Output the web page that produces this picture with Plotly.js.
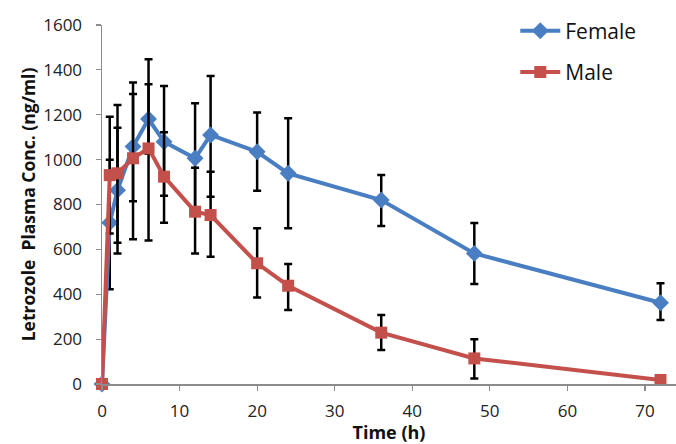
<!DOCTYPE html>
<html>
<head>
<meta charset="utf-8">
<script src="https://cdn.plot.ly/plotly-3.0.1.min.js"></script>
<style>html,body{margin:0;padding:0;background:#fff;}#chart{width:676px;height:444px;}</style>
</head>
<body>
<div id="chart"></div>
<script>
const times = [0, 1, 2, 4, 6, 8, 12, 14, 20, 24, 36, 48, 72];
const female = [0, 719, 864, 1058, 1181, 1080, 1006, 1110, 1035, 939, 820, 582, 362];
const femaleErrPlus = [0, 280, 278, 234, 155, 248, 245, 263, 175, 245, 111, 136, 87];
const femaleErrMinus = [0, 297, 282, 243, 155, 241, 245, 275, 174, 245, 116, 136, 77];
const male = [0, 931, 939, 1006, 1050, 924, 768, 753, 538, 438, 229, 114, 18];
const maleErrPlus = [0, 260, 304, 338, 397, 198, 196, 193, 156, 97, 78, 85, 0];
const maleErrMinus = [0, 260, 309, 361, 410, 205, 186, 186, 152, 108, 78, 89, 0];
const yTicks = [0, 200, 400, 600, 800, 1000, 1200, 1400, 1600];
const xTicks = [0, 10, 20, 30, 40, 50, 60, 70];

const blue = '#4A7EC2';
const red = '#C4504C';
const font = '"Open Sans", "DejaVu Sans", sans-serif';

const traces = [
  {
    x: times, y: female, name: 'Female', type: 'scatter', mode: 'lines+markers',
    legendgroup: 'f', cliponaxis: false,
    line: {color: blue, width: 4},
    marker: {symbol: 'diamond', size: 13, color: blue},
    error_y: {type: 'data', symmetric: false, array: femaleErrPlus, arrayminus: femaleErrMinus,
              color: '#000', thickness: 2.5, width: 4}
  },
  {
    x: times, y: male, name: 'Male', type: 'scatter', mode: 'lines+markers',
    legendgroup: 'm', cliponaxis: false,
    line: {color: red, width: 4},
    marker: {symbol: 'square', size: 12, color: red},
    error_y: {type: 'data', symmetric: false, array: maleErrPlus, arrayminus: maleErrMinus,
              color: '#000', thickness: 2.5, width: 4}
  }
];

const layout = {
  width: 676, height: 444,
  margin: {l: 102, r: 0, t: 25, b: 60},
  paper_bgcolor: '#fff', plot_bgcolor: '#fff',
  font: {family: font, color: '#222', size: 17},
  showlegend: true,
  legend: {
    x: 0.72, y: 1.04, xanchor: 'left', yanchor: 'top',
    font: {family: font, size: 21, color: '#111'},
    itemwidth: 40, traceorder: 'grouped', tracegroupgap: 11,
    bgcolor: 'rgba(0,0,0,0)'
  },
  xaxis: {
    range: [0, 74], tickvals: xTicks, ticktext: xTicks.map(String),
    showgrid: false, zeroline: false, showline: true, linecolor: '#8c8c8c', linewidth: 1.5,
    ticks: 'outside', ticklen: 5, tickcolor: '#8c8c8c', tickwidth: 1.2,
    ticklabelstandoff: 6,
    tickfont: {family: font, size: 17, color: '#222'},
    title: {text: '<b>Time (h)</b>', font: {family: font, size: 18, color: '#111'}, standoff: 3}
  },
  yaxis: {
    range: [0, 1600], tickvals: yTicks, ticktext: yTicks.map(String),
    showgrid: false, zeroline: false, showline: true, linecolor: '#8c8c8c', linewidth: 1.5,
    ticks: 'outside', ticklen: 5, tickcolor: '#8c8c8c', tickwidth: 1.2,
    ticklabelstandoff: 10,
    tickfont: {family: font, size: 17, color: '#222'},
    title: {text: '<b>Letrozole  Plasma Conc. (ng/ml)</b>', font: {family: font, size: 17.5, color: '#111'}, standoff: 3}
  }
};

Plotly.newPlot('chart', traces, layout, {displayModeBar: false, staticPlot: true});
</script>
</body>
</html>
